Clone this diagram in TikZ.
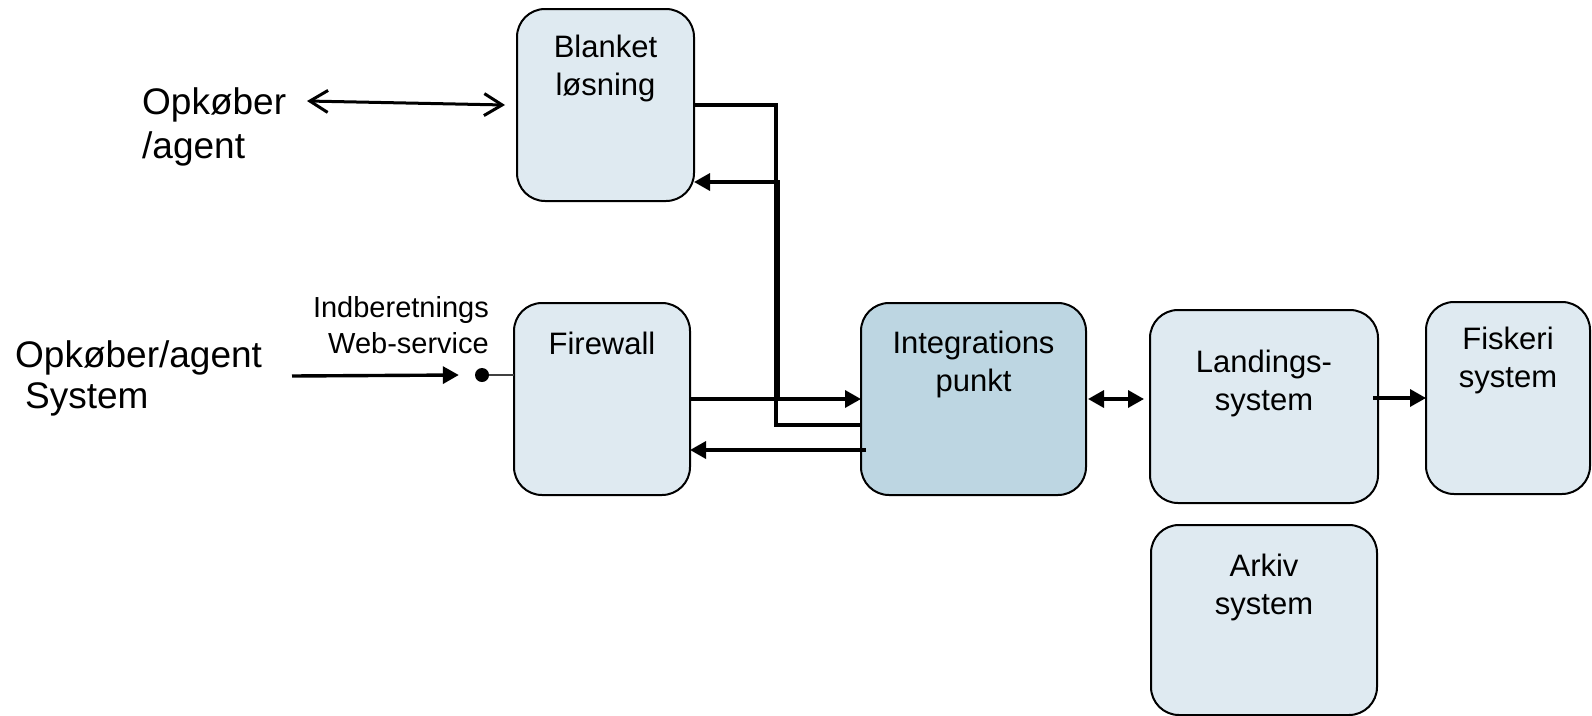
\documentclass[tikz,border=0pt]{standalone}
\usepackage{fontspec}
\setmainfont{Liberation Sans}
\usepackage{xcolor}
\usepackage{tikz}
\usetikzlibrary{arrows.meta,positioning,calc}
\definecolor{boxblue}{HTML}{DFEAF1}
\definecolor{boxdark}{HTML}{BDD6E2}

\begin{document}
\begin{tikzpicture}[x=1pt,y=-1pt,
	box/.style={draw,line width=2pt,fill=boxblue,rounded corners=28pt,inner sep=0pt,outer sep=0pt},
	boxtext/.style={align=center,inner sep=0pt,font=\fontsize{31}{38}\selectfont},
	bigtext/.style={align=left,inner sep=0pt,anchor=north west,font=\fontsize{37}{44}\selectfont},
	smalltext/.style={align=right,inner sep=0pt,anchor=north east,font=\fontsize{29}{36}\selectfont},
	arr/.style={-{Triangle[length=16pt,width=17pt]},line width=3.4pt},
	dblarr/.style={{Triangle[length=16pt,width=17pt]}-{Triangle[length=16pt,width=17pt]},line width=3.4pt},
	openarr/.style={{Straight Barb[length=18pt,width=22pt]}-{Straight Barb[length=18pt,width=22pt]},line width=3pt},
	wire/.style={draw,line width=3.2pt}]
	\useasboundingbox (0,0) rectangle (1592,715);
	% boxes
	\node[box,minimum width=177pt,minimum height=192pt] (bl) at (605.5,105) {};
	\node[boxtext,below=26pt of bl.north] (bltxt) {Blanket\\løsning};
	\node[box,minimum width=176pt,minimum height=192pt] (fw) at (602,399) {};
	\node[boxtext,below=29pt of fw.north] (fwtxt) {Firewall};
	\node[box,fill=boxdark,minimum width=225pt,minimum height=192pt] (int) at (973.5,399) {};
	\node[boxtext,below=28pt of int.north] (inttxt) {Integrations\\punkt};
	\node[box,minimum width=228pt,minimum height=193pt] (land) at (1264,406.5) {};
	\node[boxtext,below=40pt of land.north] (landtxt) {Landings-\\system};
	\node[box,minimum width=164pt,minimum height=192pt] (fisk) at (1508,398) {};
	\node[boxtext,below=25pt of fisk.north] (fisktxt) {Fiskeri\\system};
	\node[box,minimum width=226pt,minimum height=190pt] (ark) at (1264,620) {};
	\node[boxtext,below=29pt of ark.north] (arktxt) {Arkiv\\system};
	% outside
	\node[bigtext] (opk) at (142,87) {Opkøber\\/agent};
	\node[bigtext,font=\fontsize{37}{41}\selectfont] (sys) at (15,340) {Opkøber/agent\\\hspace*{10pt}System};
	\node[smalltext] (wstxt) at (489,296) {Indberetnings\\Web-service};
	\node[circle,fill=black,inner sep=0pt,minimum size=14pt] (ws) at (482,375) {};
	\coordinate (opkend) at (307,101);
	\coordinate (sysin) at (292,376);
	\coordinate (jn) at (776,105);
	% connectors
	\draw[openarr] (opkend) -- ($(bl.west)+(-12,0)$);
	\draw[arr] (sysin) -- ($(ws.west)+(-16,0)$);
	\path[wire,line width=2.4pt,black!75] (ws) -- (ws -| fw.west);
	\path[wire] (bl.east) -- (jn) |- ($(int.west)+(0,26)$);
	\draw[arr] (fw.east) -- (int.west);
	\draw[arr] ($(fw.east -| jn)+(2,0)$) |- ($(bl.east)+(0,77)$);
	\draw[arr] ($(int.west)+(5,51)$) -- ($(fw.east)+(0,51)$);
	\draw[dblarr] ($(int.east)+(2,0)$) -- ($(int.east -| land.west)+(-6,0)$);
	\draw[arr] ($(fisk.west -| land.east)+(-5,0)$) -- (fisk.west);
\end{tikzpicture}
\end{document}
